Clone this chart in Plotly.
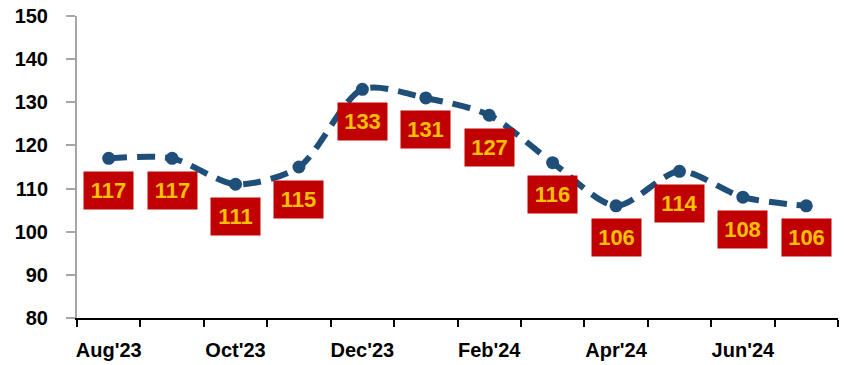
import plotly.graph_objects as go

# Monthly index values, Aug'23 to Jul'24
months = ["Aug'23", "Sep'23", "Oct'23", "Nov'23", "Dec'23", "Jan'24",
          "Feb'24", "Mar'24", "Apr'24", "May'24", "Jun'24", "Jul'24"]
values = [117, 117, 111, 115, 133, 131, 127, 116, 106, 114, 108, 106]
y_ticks = [80, 90, 100, 110, 120, 130, 140, 150]

# Only every other month gets a visible label
tick_text = [f"<b>{m}</b>" if i % 2 == 0 else "" for i, m in enumerate(months)]
y_text = [f"<b>{t}</b>" for t in y_ticks]

LINE = "#1F4E79"
BOX = "#C00000"
LABEL = "#FFC000"
FONT = "Liberation Sans Narrow, Arial Narrow, Liberation Sans, Arial, sans-serif"

fig = go.Figure()
fig.add_trace(go.Scatter(
    x=months, y=values,
    mode="lines+markers",
    line=dict(color=LINE, width=6, dash="18px,10px", shape="spline", smoothing=0.8),
    marker=dict(color=LINE, size=13),
    hoverinfo="skip",
))

# Value boxes below each point
for m, v in zip(months, values):
    fig.add_annotation(
        x=m, y=v, text=f"<b>{v}</b>", showarrow=False,
        yshift=-32, width=49, height=37, borderpad=0,
        bgcolor=BOX, font=dict(family=FONT, size=22, color=LABEL),
        xanchor="center", yanchor="middle",
    )

fig.update_layout(
    width=846, height=365,
    margin=dict(l=77, r=8, t=16, b=47, autoexpand=False),
    paper_bgcolor="white", plot_bgcolor="white",
    showlegend=False,
    font=dict(family=FONT, color="black"),
)
fig.update_xaxes(
    type="category", range=[-0.5, len(months) - 0.5],
    tickmode="array", tickvals=months, ticktext=tick_text,
    tickson="boundaries", ticks="outside", ticklen=7, tickwidth=2, tickcolor="black",
    showline=True, linecolor="black", linewidth=2, showgrid=False, zeroline=False,
    tickfont=dict(family=FONT, size=20, color="black"),
    tickangle=0, automargin=False, ticklabelstandoff=13,
)
fig.update_yaxes(
    range=[80, 150], tickmode="array", tickvals=y_ticks, ticktext=y_text,
    ticks="outside", ticklen=9, tickwidth=2, tickcolor="#A6A6A6",
    showline=True, linecolor="#A6A6A6", linewidth=2, showgrid=False, zeroline=False,
    tickfont=dict(family=FONT, size=20, color="black"),
    automargin=False, ticklabelstandoff=14,
)

fig.write_html("out.html")
